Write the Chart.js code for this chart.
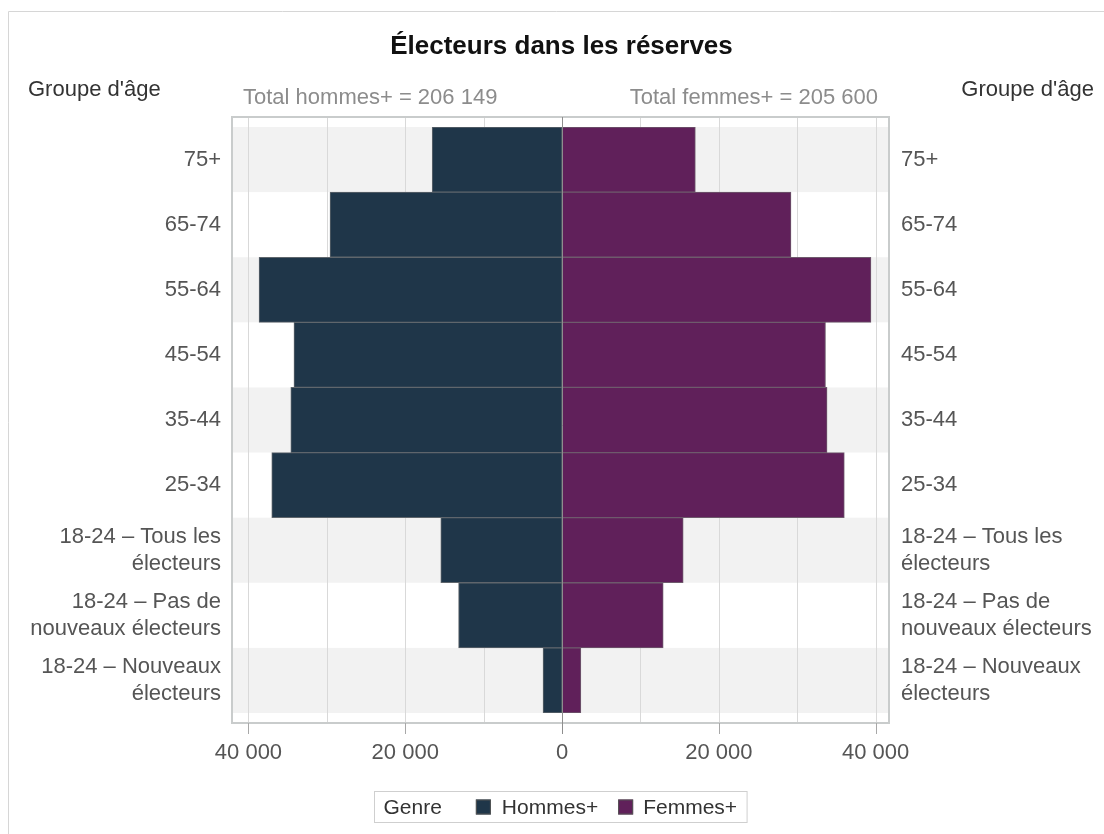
<!DOCTYPE html>
<html><head><meta charset="utf-8">
<script src="https://cdn.jsdelivr.net/npm/chart.js@4.4.0/dist/chart.umd.min.js"></script>
<style>html,body{margin:0;padding:0;background:#fff;} #wrap{position:relative;width:1104px;height:834px;}</style>
</head><body><div id="wrap"><canvas id="c"></canvas></div>
<script>
const categories = ['75+','65-74','55-64','45-54','35-44','25-34',
  ['18-24 – Tous les','électeurs'],
  ['18-24 – Pas de','nouveaux électeurs'],
  ['18-24 – Nouveaux','électeurs']];
const seriesNames = ['Hommes+','Femmes+'];
const hommes = [16570, 29600, 38650, 34200, 34600, 37030, 15470, 13200, 2430];
const femmes = [17000, 29200, 39400, 33600, 33800, 36000, 15450, 12900, 2400];
const totals = [206149, 205600];
const xGridTicks = [-40000, -30000, -20000, -10000, 0, 10000, 20000, 30000, 40000];
const xLabelTicks = [-40000, -20000, 0, 20000, 40000];
const titleText = 'Électeurs dans les réserves';
const axisTitleText = "Groupe d'âge";
const legendTitleText = 'Genre';
const totalPrefixes = ['Total hommes+ = ', 'Total femmes+ = '];

const colors = ['#1f3649', '#60205a'];
const FONT = "'Liberation Sans', Arial, sans-serif";
const fmt = n => String(Math.abs(n)).replace(/\B(?=(\d{3})+(?!\d))/g, ' ');

const W = 1104, H = 834;
const AREA = {left: 232, right: 889, top: 127, bottom: 713};
const PAD = 10; // frame inset beyond bands

function line(ctx, x1, y1, x2, y2){ ctx.beginPath(); ctx.moveTo(x1,y1); ctx.lineTo(x2,y2); ctx.stroke(); }

const decor = {
  id: 'decor',
  beforeDatasetsDraw(chart){
    const {ctx, chartArea: a, scales: {x, y}} = chart;
    const fTop = a.top - PAD, fBot = a.bottom + PAD;
    ctx.save();
    const band = y.getPixelForValue(1) - y.getPixelForValue(0);
    categories.forEach((c, i) => {
      if (i % 2 === 0) {
        const cy = y.getPixelForValue(i);
        ctx.fillStyle = '#f2f2f2';
        ctx.fillRect(a.left, cy - band/2, a.right - a.left, band);
      }
    });
    ctx.strokeStyle = '#d9d9d9'; ctx.lineWidth = 1;
    x.ticks.forEach(t => {
      if (t.value === 0) return;
      const px = Math.round(x.getPixelForValue(t.value)) + 0.5;
      line(ctx, px, fTop, px, fBot);
    });
    ctx.restore();
  },
  afterDatasetsDraw(chart){
    const {ctx, chartArea: a, scales: {x}} = chart;
    const fTop = a.top - PAD, fBot = a.bottom + PAD;
    ctx.save();
    ctx.strokeStyle = '#c9cccc'; ctx.lineWidth = 2;
    ctx.strokeRect(a.left, fTop, a.right - a.left, fBot - fTop);
    ctx.strokeStyle = '#8e8e8e'; ctx.lineWidth = 1;
    const zx = Math.round(x.getPixelForValue(0)) + 0.5;
    line(ctx, zx, fTop, zx, fBot + 11);
    ctx.strokeStyle = '#a8a8a8';
    xLabelTicks.forEach(v => {
      if (v === 0) return;
      const px = Math.round(x.getPixelForValue(v)) + 0.5;
      line(ctx, px, fBot, px, fBot + 11);
    });
    ctx.restore();
  },
  afterDraw(chart){
    const {ctx, chartArea: a} = chart;
    ctx.save();
    ctx.strokeStyle = '#d6d6d6'; ctx.lineWidth = 1;
    line(ctx, 8.5, 11.5, 8.5, H);
    line(ctx, 8.5, 11.5, W, 11.5);
    ctx.fillStyle = '#111';
    ctx.font = 'bold 26px ' + FONT;
    ctx.textAlign = 'center'; ctx.textBaseline = 'middle';
    ctx.fillText(titleText, (a.left + a.right)/2 + 1, 47);
    ctx.font = '22px ' + FONT; ctx.fillStyle = '#333';
    ctx.textAlign = 'left';
    ctx.fillText(axisTitleText, 28, 90);
    ctx.textAlign = 'right';
    ctx.fillText(axisTitleText, 1094, 90);
    ctx.fillStyle = '#8c8c8c';
    ctx.textAlign = 'left';
    ctx.fillText(totalPrefixes[0] + fmt(totals[0]), a.left + 11, 98);
    ctx.textAlign = 'right';
    ctx.fillText(totalPrefixes[1] + fmt(totals[1]), a.right - 11, 98);
    // legend
    ctx.font = '21px ' + FONT;
    const gTitle = ctx.measureText(legendTitleText).width;
    const w0 = ctx.measureText(seriesNames[0]).width;
    const w1 = ctx.measureText(seriesNames[1]).width;
    const sq = 15;
    const total = 9 + gTitle + 34 + sq + 11 + w0 + 20 + sq + 10 + w1 + 10;
    const bx = Math.round((a.left + a.right)/2 - total/2) + 0.5;
    const by = 791.5, bh = 31, cy = by + bh/2;
    ctx.strokeStyle = '#cfcfcf'; ctx.lineWidth = 1;
    ctx.strokeRect(bx, by, total, bh);
    ctx.textAlign = 'left'; ctx.textBaseline = 'middle';
    let cx = bx + 9;
    ctx.fillStyle = '#333';
    ctx.fillText(legendTitleText, cx, cy + 1); cx += gTitle + 34;
    [w0, w1].forEach((w, i) => {
      ctx.fillStyle = colors[i];
      ctx.fillRect(cx, cy - sq/2, sq, sq);
      ctx.strokeStyle = '#555'; ctx.strokeRect(cx + 0.5, cy - sq/2 + 0.5, sq - 1, sq - 1);
      cx += sq + (i === 0 ? 11 : 10);
      ctx.fillStyle = '#333';
      ctx.fillText(seriesNames[i], cx, cy + 1);
      cx += w + 20;
    });
    ctx.restore();
  }
};

const tickFont = {family: FONT, size: 22, lineHeight: 1.23};

new Chart(document.getElementById('c'), {
  type: 'bar',
  data: {
    labels: categories,
    datasets: [
      {label: seriesNames[0], data: hommes.map(v => -v), backgroundColor: colors[0], borderColor: '#5f666c', borderWidth: 1, borderSkipped: false, barPercentage: 1, categoryPercentage: 1},
      {label: seriesNames[1], data: femmes, backgroundColor: colors[1], borderColor: '#6e5a6c', borderWidth: 1, borderSkipped: false, barPercentage: 1, categoryPercentage: 1}
    ]
  },
  options: {
    indexAxis: 'y',
    responsive: true,
    maintainAspectRatio: false,
    animation: false,
    layout: {padding: {top: AREA.top, left: 0, right: 0, bottom: 0}},
    plugins: {legend: {display: false}, tooltip: {enabled: false}, title: {display: false}},
    scales: {
      x: {
        type: 'linear', stacked: true, min: -42100, max: 41700,
        grid: {display: false, drawTicks: false}, border: {display: false},
        afterBuildTicks(s){ s.ticks = xGridTicks.map(v => ({value: v})); },
        ticks: {autoSkip: false, maxRotation: 0, padding: 27,
          color: '#555', font: {family: FONT, size: 22},
          callback: v => xLabelTicks.includes(v) ? fmt(v) : ''},
        afterFit(s){ s.height = H - AREA.bottom; }
      },
      y: {
        type: 'category', position: 'left', stacked: true, offset: true,
        grid: {display: false, drawTicks: false}, border: {display: false},
        ticks: {padding: 11, color: '#555', font: tickFont, autoSkip: false},
        afterFit(s){ s.width = AREA.left; }
      },
      y2: {
        type: 'category', position: 'right', labels: categories, offset: true,
        grid: {display: false, drawTicks: false}, border: {display: false},
        ticks: {padding: 12, color: '#555', font: tickFont, autoSkip: false},
        afterFit(s){ s.width = W - AREA.right; }
      }
    }
  },
  plugins: [decor]
});
</script>
</body></html>
